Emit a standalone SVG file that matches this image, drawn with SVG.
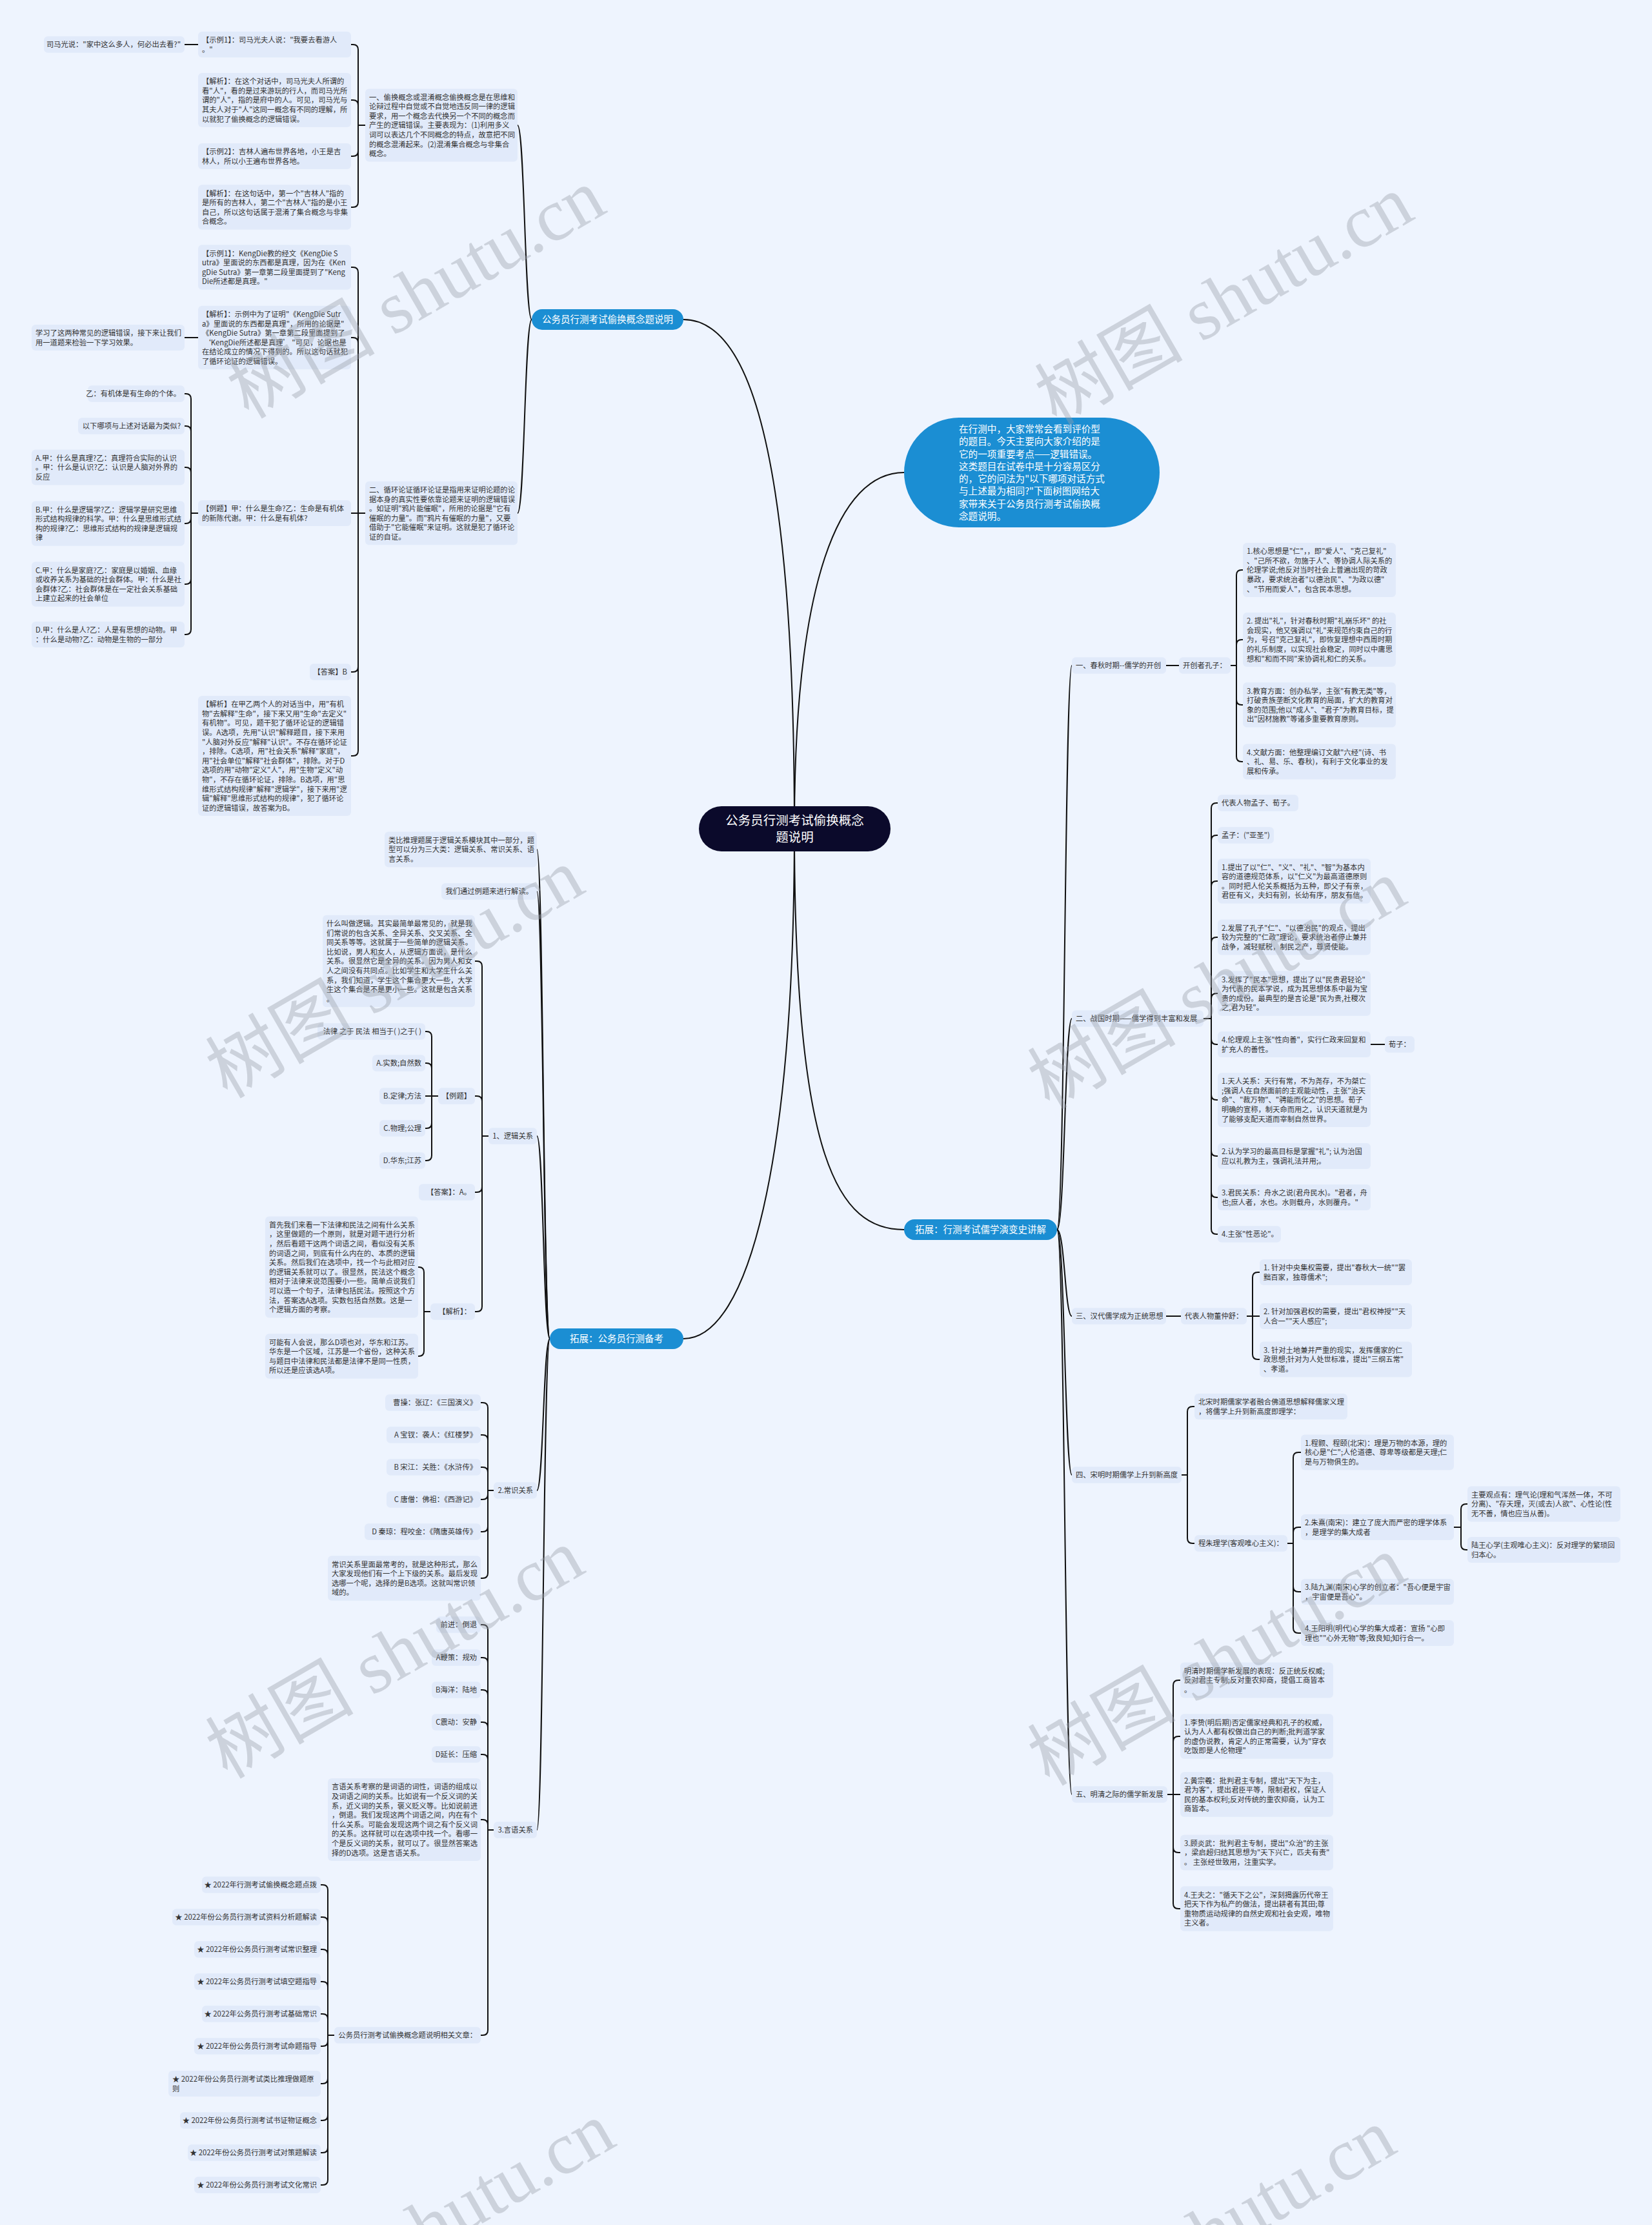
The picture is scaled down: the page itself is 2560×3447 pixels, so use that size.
<svg xmlns="http://www.w3.org/2000/svg" width="2560" height="3447" viewBox="0 0 2560 3447">
<style>
.bg{fill:#eef4fe}
.b{fill:#e1eafa}
.t{font-family:"Noto Sans CJK SC","Noto Sans",sans-serif;font-size:11.3px;fill:#333}
.e{text-anchor:end}
.c{fill:none;stroke:#111;stroke-width:2}
.p{fill:#1b8ed3}
.pt{font-family:"Noto Sans CJK SC",sans-serif;font-size:14.5px;fill:#fff;text-anchor:middle}
.it{font-family:"Noto Sans CJK SC",sans-serif;font-size:14.6px;fill:#fff}
.rt{font-family:"Noto Sans CJK SC",sans-serif;font-size:19.5px;fill:#fff;text-anchor:middle}
.wm{font-family:"Liberation Serif","Noto Sans CJK SC",serif;font-size:115px;fill:#9aa0aa;opacity:.4}
</style>
<rect class="bg" x="0" y="0" width="2560" height="3447"/>

<g id="connectors">
<path class="c" d="M1231 1284C1231 620 1140 495 1059 495"/>
<path class="c" d="M1231 1284C1231 900 1300 732 1401 732"/>
<path class="c" d="M1231 1284C1231 1800 1160 2074 1059 2074"/>
<path class="c" d="M1231 1284C1231 1800 1300 1905 1401 1905"/>
<path class="c" d="M824 495C813 495 813 194 802 194"/>
<path class="c" d="M824 495C813 495 813 795 802 795"/>
<path class="c" d="M566 194H555V77Q555 69 547 69H544"/>
<path class="c" d="M566 194H555V163Q555 155 547 155H544"/>
<path class="c" d="M566 194H555V234Q555 242 547 242H544"/>
<path class="c" d="M566 194H555V313Q555 321 547 321H544"/>
<path class="c" d="M307 69H286"/>
<path class="c" d="M566 795H555V422Q555 414 547 414H544"/>
<path class="c" d="M566 795H555V531Q555 523 547 523H544"/>
<path class="c" d="M566 795H544"/>
<path class="c" d="M566 795H555V1033Q555 1041 547 1041H544"/>
<path class="c" d="M566 795H555V1163Q555 1171 547 1171H544"/>
<path class="c" d="M307 523H286"/>
<path class="c" d="M307 795H296V618Q296 610 288 610H286"/>
<path class="c" d="M307 795H296V668Q296 660 288 660H286"/>
<path class="c" d="M307 795H296V732Q296 724 288 724H286"/>
<path class="c" d="M307 795H296V803Q296 811 288 811H286"/>
<path class="c" d="M307 795H296V897Q296 905 288 905H286"/>
<path class="c" d="M307 795H296V975Q296 983 288 983H286"/>
<path class="c" d="M852 2074C842 2074 842 1316 832 1316"/>
<path class="c" d="M852 2074C842 2074 842 1381 832 1381"/>
<path class="c" d="M852 2074C842 2074 842 1760 832 1760"/>
<path class="c" d="M852 2074C842 2074 842 2309 832 2309"/>
<path class="c" d="M852 2074C842 2074 842 2835 832 2835"/>
<path class="c" d="M757 1760H747V1497Q747 1489 739 1489H736"/>
<path class="c" d="M757 1760H747V1706Q747 1698 739 1698H736"/>
<path class="c" d="M757 1760H747V1839Q747 1847 739 1847H736"/>
<path class="c" d="M757 1760H747V2024Q747 2032 739 2032H736"/>
<path class="c" d="M679 1698H669V1606Q669 1598 661 1598H659"/>
<path class="c" d="M679 1698H669V1655Q669 1647 661 1647H659"/>
<path class="c" d="M679 1698H659"/>
<path class="c" d="M679 1698H669V1740Q669 1748 661 1748H659"/>
<path class="c" d="M679 1698H669V1790Q669 1798 661 1798H659"/>
<path class="c" d="M667 2032H657V1971Q657 1963 649 1963H648"/>
<path class="c" d="M667 2032H657V2093Q657 2101 649 2101H648"/>
<path class="c" d="M765 2309H756V2181Q756 2173 748 2173H745"/>
<path class="c" d="M765 2309H756V2231Q756 2223 748 2223H745"/>
<path class="c" d="M765 2309H756V2281Q756 2273 748 2273H745"/>
<path class="c" d="M765 2309H756V2315Q756 2323 748 2323H745"/>
<path class="c" d="M765 2309H756V2365Q756 2373 748 2373H745"/>
<path class="c" d="M765 2309H756V2437Q756 2445 748 2445H745"/>
<path class="c" d="M765 2835H756V2525Q756 2517 748 2517H745"/>
<path class="c" d="M765 2835H756V2576Q756 2568 748 2568H745"/>
<path class="c" d="M765 2835H756V2626Q756 2618 748 2618H745"/>
<path class="c" d="M765 2835H756V2676Q756 2668 748 2668H745"/>
<path class="c" d="M765 2835H756V2726Q756 2718 748 2718H745"/>
<path class="c" d="M765 2835H756V2827Q756 2819 748 2819H745"/>
<path class="c" d="M765 2835H756V3145Q756 3153 748 3153H745"/>
<path class="c" d="M518 3153H508V2928Q508 2920 500 2920H497"/>
<path class="c" d="M518 3153H508V2978Q508 2970 500 2970H497"/>
<path class="c" d="M518 3153H508V3028Q508 3020 500 3020H497"/>
<path class="c" d="M518 3153H508V3078Q508 3070 500 3070H497"/>
<path class="c" d="M518 3153H508V3128Q508 3120 500 3120H497"/>
<path class="c" d="M518 3153H508V3162Q508 3170 500 3170H497"/>
<path class="c" d="M518 3153H508V3220Q508 3228 500 3228H497"/>
<path class="c" d="M518 3153H508V3277Q508 3285 500 3285H497"/>
<path class="c" d="M518 3153H508V3327Q508 3335 500 3335H497"/>
<path class="c" d="M518 3153H508V3377Q508 3385 500 3385H497"/>
<path class="c" d="M1638 1905C1650 1905 1650 1031 1661 1031"/>
<path class="c" d="M1638 1905C1650 1905 1650 1578 1661 1578"/>
<path class="c" d="M1638 1905C1650 1905 1650 2039 1661 2039"/>
<path class="c" d="M1638 1905C1650 1905 1650 2285 1661 2285"/>
<path class="c" d="M1638 1905C1650 1905 1650 2780 1661 2780"/>
<path class="c" d="M1807 1031H1827"/>
<path class="c" d="M1907 1031H1916V891Q1916 883 1924 883H1926"/>
<path class="c" d="M1907 1031H1916V999Q1916 991 1924 991H1926"/>
<path class="c" d="M1907 1031H1916V1084Q1916 1092 1924 1092H1926"/>
<path class="c" d="M1907 1031H1916V1172Q1916 1180 1924 1180H1926"/>
<path class="c" d="M1865 1578H1877V1252Q1877 1244 1885 1244H1887"/>
<path class="c" d="M1865 1578H1877V1302Q1877 1294 1885 1294H1887"/>
<path class="c" d="M1865 1578H1877V1373Q1877 1365 1885 1365H1887"/>
<path class="c" d="M1865 1578H1877V1460Q1877 1452 1885 1452H1887"/>
<path class="c" d="M1865 1578H1877V1547Q1877 1539 1885 1539H1887"/>
<path class="c" d="M1865 1578H1877V1610Q1877 1618 1885 1618H1887"/>
<path class="c" d="M1865 1578H1877V1696Q1877 1704 1885 1704H1887"/>
<path class="c" d="M1865 1578H1877V1783Q1877 1791 1885 1791H1887"/>
<path class="c" d="M1865 1578H1877V1847Q1877 1855 1885 1855H1887"/>
<path class="c" d="M1865 1578H1877V1904Q1877 1912 1885 1912H1887"/>
<path class="c" d="M2124 1618H2146"/>
<path class="c" d="M1807 2039H1830"/>
<path class="c" d="M1932 2039H1941V1979Q1941 1971 1949 1971H1952"/>
<path class="c" d="M1932 2039H1952"/>
<path class="c" d="M1932 2039H1941V2098Q1941 2106 1949 2106H1952"/>
<path class="c" d="M1831 2285H1840V2187Q1840 2179 1848 2179H1851"/>
<path class="c" d="M1831 2285H1840V2383Q1840 2391 1848 2391H1851"/>
<path class="c" d="M1995 2391H2004V2258Q2004 2250 2012 2250H2016"/>
<path class="c" d="M1995 2391H2004V2374Q2004 2366 2012 2366H2016"/>
<path class="c" d="M1995 2391H2004V2458Q2004 2466 2012 2466H2016"/>
<path class="c" d="M1995 2391H2004V2522Q2004 2530 2012 2530H2016"/>
<path class="c" d="M2253 2366H2264V2338Q2264 2330 2272 2330H2274"/>
<path class="c" d="M2253 2366H2264V2393Q2264 2401 2272 2401H2274"/>
<path class="c" d="M1809 2780H1818V2611Q1818 2603 1826 2603H1829"/>
<path class="c" d="M1809 2780H1818V2698Q1818 2690 1826 2690H1829"/>
<path class="c" d="M1809 2780H1829"/>
<path class="c" d="M1809 2780H1818V2862Q1818 2870 1826 2870H1829"/>
<path class="c" d="M1809 2780H1818V2949Q1818 2957 1826 2957H1829"/>
</g>

<g id="root"><rect x="1083" y="1249" width="297" height="70" rx="35" fill="#0b0a2b"/><text class="rt" x="1231.5" y="1278">公务员行测考试偷换概念<tspan x="1231.5" dy="26">题说明</tspan></text></g>

<g id="intro"><rect class="p" x="1401" y="647" width="396" height="170" rx="85"/><text class="it" x="1486" y="670">在行测中，大家常常会看到评价型<tspan x="1486" dy="19.25">的题目。今天主要向大家介绍的是</tspan><tspan x="1486" dy="19.25">它的一项重要考点——逻辑错误。</tspan><tspan x="1486" dy="19.25">这类题目在试卷中是十分容易区分</tspan><tspan x="1486" dy="19.25">的，它的问法为"以下哪项对话方式</tspan><tspan x="1486" dy="19.25">与上述最为相同?"下面树图网给大</tspan><tspan x="1486" dy="19.25">家带来关于公务员行测考试偷换概</tspan><tspan x="1486" dy="19.25">念题说明。</tspan></text></g>

<g id="branch1"><rect class="p" x="824" y="479" width="235" height="32" rx="16"/><text class="pt" x="941.5" y="500">公务员行测考试偷换概念题说明</text></g>
<g id="branch2"><rect class="p" x="852" y="2058" width="207" height="32" rx="16"/><text class="pt" x="955.5" y="2079">拓展：公务员行测备考</text></g>
<g id="branch3"><rect class="p" x="1401" y="1889" width="237" height="32" rx="16"/><text class="pt" x="1519.5" y="1910">拓展：行测考试儒学演变史讲解</text></g>

<g id="n1"><rect class="b" x="566" y="137.4" width="236" height="113.2" rx="6"/><text class="t" x="572" y="154.6">一、偷换概念或混淆概念偷换概念是在思维和<tspan x="572" dy="14.6">论辩过程中自觉或不自觉地违反同一律的逻辑</tspan><tspan x="572" dy="14.6">要求，用一个概念去代换另一个不同的概念而</tspan><tspan x="572" dy="14.6">产生的逻辑错误。主要表现为：(1)利用多义</tspan><tspan x="572" dy="14.6">词可以表达几个不同概念的特点，故意把不同</tspan><tspan x="572" dy="14.6">的概念混淆起来。(2)混淆集合概念与非集合</tspan><tspan x="572" dy="14.6">概念。</tspan></text></g>
<g id="n1a"><rect class="b" x="68" y="56.2" width="218" height="25.6" rx="6"/><text class="t e" x="280" y="73.4">司马光说："家中这么多人，何必出去看?"</text></g>
<g id="n1b"><rect class="b" x="307" y="48.9" width="237" height="40.2" rx="6"/><text class="t" x="313" y="66.1">【示例1】：司马光夫人说："我要去看游人<tspan x="313" dy="14.6">。"</tspan></text></g>
<g id="n1c"><rect class="b" x="307" y="113" width="237" height="84" rx="6"/><text class="t" x="313" y="130.2">【解析】：在这个对话中，司马光夫人所谓的<tspan x="313" dy="14.6">看"人"，看的是过来游玩的行人，而司马光所</tspan><tspan x="313" dy="14.6">谓的"人"，指的是府中的人。可见，司马光与</tspan><tspan x="313" dy="14.6">其夫人对于"人"这同一概念有不同的理解，所</tspan><tspan x="313" dy="14.6">以就犯了偷换概念的逻辑错误。</tspan></text></g>
<g id="n1d"><rect class="b" x="307" y="221.9" width="237" height="40.2" rx="6"/><text class="t" x="313" y="239.1">【示例2】：吉林人遍布世界各地，小王是吉<tspan x="313" dy="14.6">林人，所以小王遍布世界各地。</tspan></text></g>
<g id="n1e"><rect class="b" x="307" y="286.3" width="237" height="69.4" rx="6"/><text class="t" x="313" y="303.5">【解析】：在这句话中，第一个"吉林人"指的<tspan x="313" dy="14.6">是所有的吉林人，第二个"吉林人"指的是小王</tspan><tspan x="313" dy="14.6">自己，所以这句话属于混淆了集合概念与非集</tspan><tspan x="313" dy="14.6">合概念。</tspan></text></g>

<g id="n2"><rect class="b" x="566" y="745.7" width="236" height="98.6" rx="6"/><text class="t" x="572" y="762.9">二、循环论证循环论证是指用来证明论题的论<tspan x="572" dy="14.6">据本身的真实性要依靠论题来证明的逻辑错误</tspan><tspan x="572" dy="14.6">。如证明"鸦片能催眠"，所用的论据是"它有</tspan><tspan x="572" dy="14.6">催眠的力量"。而"鸦片有催眠的力量"，又要</tspan><tspan x="572" dy="14.6">借助于"它能催眠"来证明。这就是犯了循环论</tspan><tspan x="572" dy="14.6">证的自证。</tspan></text></g>
<g id="n2a"><rect class="b" x="307" y="379.3" width="237" height="69.4" rx="6"/><text class="t" x="313" y="396.5">【示例1】：KengDie教的经文《KengDie S<tspan x="313" dy="14.6">utra》里面说的东西都是真理，因为在《Ken</tspan><tspan x="313" dy="14.6">gDie Sutra》第一章第二段里面提到了"Keng</tspan><tspan x="313" dy="14.6">Die所述都是真理。"</tspan></text></g>
<g id="n2b"><rect class="b" x="307" y="473.7" width="237" height="98.6" rx="6"/><text class="t" x="313" y="490.9">【解析】：示例中为了证明"《KengDie Sutr<tspan x="313" dy="14.6">a》里面说的东西都是真理"，所用的论据是"</tspan><tspan x="313" dy="14.6">《KengDie Sutra》第一章第二段里面提到了</tspan><tspan x="313" dy="14.6"> ‘KengDie所述都是真理’ "可见，论据也是</tspan><tspan x="313" dy="14.6">在结论成立的情况下得到的。所以这句话就犯</tspan><tspan x="313" dy="14.6">了循环论证的逻辑错误。</tspan></text></g>
<g id="n2b1"><rect class="b" x="49" y="502.9" width="237" height="40.2" rx="6"/><text class="t" x="55" y="520.1">学习了这两种常见的逻辑错误，接下来让我们<tspan x="55" dy="14.6">用一道题来检验一下学习效果。</tspan></text></g>
<g id="n2c"><rect class="b" x="307" y="774.9" width="237" height="40.2" rx="6"/><text class="t" x="313" y="792.1">【例题】甲：什么是生命?乙：生命是有机体<tspan x="313" dy="14.6">的新陈代谢。甲：什么是有机体?</tspan></text></g>
<g id="n2c1"><rect class="b" x="136" y="597.2" width="150" height="25.6" rx="6"/><text class="t e" x="280" y="614.4">乙：有机体是有生命的个体。</text></g>
<g id="n2c2"><rect class="b" x="121" y="647.2" width="165" height="25.6" rx="6"/><text class="t e" x="280" y="664.4">以下哪项与上述对话最为类似?</text></g>
<g id="n2c3"><rect class="b" x="49" y="696.6" width="237" height="54.8" rx="6"/><text class="t" x="55" y="713.8">A.甲：什么是真理?乙：真理符合实际的认识<tspan x="55" dy="14.6">。甲：什么是认识?乙：认识是人脑对外界的</tspan><tspan x="55" dy="14.6">反应</tspan></text></g>
<g id="n2c4"><rect class="b" x="49" y="776.3" width="237" height="69.4" rx="6"/><text class="t" x="55" y="793.5">B.甲：什么是逻辑学?乙：逻辑学是研究思维<tspan x="55" dy="14.6">形式结构规律的科学。甲：什么是思维形式结</tspan><tspan x="55" dy="14.6">构的规律?乙：思维形式结构的规律是逻辑规</tspan><tspan x="55" dy="14.6">律</tspan></text></g>
<g id="n2c5"><rect class="b" x="49" y="870.3" width="237" height="69.4" rx="6"/><text class="t" x="55" y="887.5">C.甲：什么是家庭?乙：家庭是以婚姻、血缘<tspan x="55" dy="14.6">或收养关系为基础的社会群体。甲：什么是社</tspan><tspan x="55" dy="14.6">会群体?乙：社会群体是在一定社会关系基础</tspan><tspan x="55" dy="14.6">上建立起来的社会单位</tspan></text></g>
<g id="n2c6"><rect class="b" x="49" y="962.9" width="237" height="40.2" rx="6"/><text class="t" x="55" y="980.1">D.甲：什么是人?乙：人是有思想的动物。甲<tspan x="55" dy="14.6">：什么是动物?乙：动物是生物的一部分</tspan></text></g>
<g id="n2d"><rect class="b" x="480" y="1028.2" width="64" height="25.6" rx="6"/><text class="t e" x="538" y="1045.4">【答案】B</text></g>
<g id="n2e"><rect class="b" x="307" y="1077.9" width="237" height="186.2" rx="6"/><text class="t" x="313" y="1095.1">【解析】在甲乙两个人的对话当中，用"有机<tspan x="313" dy="14.6">物"去解释"生命"，接下来又用"生命"去定义"</tspan><tspan x="313" dy="14.6">有机物"。可见，题干犯了循环论证的逻辑错</tspan><tspan x="313" dy="14.6">误。A选项，先用"认识"解释题目，接下来用</tspan><tspan x="313" dy="14.6">"人脑对外反应"解释"认识"。不存在循环论证</tspan><tspan x="313" dy="14.6">，排除。C选项，用"社会关系"解释"家庭"，</tspan><tspan x="313" dy="14.6">用"社会单位"解释"社会群体"，排除。对于D</tspan><tspan x="313" dy="14.6">选项的用"动物"定义"人"，用"生物"定义"动</tspan><tspan x="313" dy="14.6">物"，不存在循环论证，排除。B选项，用"思</tspan><tspan x="313" dy="14.6">维形式结构规律"解释"逻辑学"，接下来用"逻</tspan><tspan x="313" dy="14.6">辑"解释"思维形式结构的规律"，犯了循环论</tspan><tspan x="313" dy="14.6">证的逻辑错误，故答案为B。</tspan></text></g>

<g id="c1"><rect class="b" x="596" y="1288.6" width="236" height="54.8" rx="6"/><text class="t" x="602" y="1305.8">类比推理题属于逻辑关系模块其中一部分，题<tspan x="602" dy="14.6">型可以分为三大类：逻辑关系、常识关系、语</tspan><tspan x="602" dy="14.6">言关系。</tspan></text></g>
<g id="c2"><rect class="b" x="684" y="1368.2" width="148" height="25.6" rx="6"/><text class="t e" x="826" y="1385.4">我们通过例题来进行解读。</text></g>
<g id="c3"><rect class="b" x="757" y="1747.2" width="75" height="25.6" rx="6"/><text class="t e" x="826" y="1764.4">1、逻辑关系</text></g>
<g id="c3a"><rect class="b" x="500" y="1417.8" width="236" height="142.4" rx="6"/><text class="t" x="506" y="1435">什么叫做逻辑。其实最简单最常见的，就是我<tspan x="506" dy="14.6">们常说的包含关系、全异关系、交叉关系、全</tspan><tspan x="506" dy="14.6">同关系等等。这就属于一些简单的逻辑关系。</tspan><tspan x="506" dy="14.6">比如说，男人和女人，从逻辑方面说，是什么</tspan><tspan x="506" dy="14.6">关系。很显然它是全异的关系。因为男人和女</tspan><tspan x="506" dy="14.6">人之间没有共同点。比如学生和大学生什么关</tspan><tspan x="506" dy="14.6">系，我们知道，学生这个集合更大一些，大学</tspan><tspan x="506" dy="14.6">生这个集合是不是更小一些。这就是包含关系</tspan><tspan x="506" dy="14.6">。</tspan></text></g>
<g id="c3b"><rect class="b" x="679" y="1685.2" width="57" height="25.6" rx="6"/><text class="t e" x="730" y="1702.4">【例题】</text></g>
<g id="c3b1"><rect class="b" x="492" y="1585.2" width="167" height="25.6" rx="6"/><text class="t e" x="653" y="1602.4">法律 之于 民法 相当于( )之于( )</text></g>
<g id="c3b2"><rect class="b" x="577" y="1634.2" width="82" height="25.6" rx="6"/><text class="t e" x="653" y="1651.4">A.实数;自然数</text></g>
<g id="c3b3"><rect class="b" x="588" y="1685.2" width="71" height="25.6" rx="6"/><text class="t e" x="653" y="1702.4">B.定律;方法</text></g>
<g id="c3b4"><rect class="b" x="588" y="1735.2" width="71" height="25.6" rx="6"/><text class="t e" x="653" y="1752.4">C.物理;公理</text></g>
<g id="c3b5"><rect class="b" x="588" y="1785.2" width="71" height="25.6" rx="6"/><text class="t e" x="653" y="1802.4">D.华东;江苏</text></g>
<g id="c3c"><rect class="b" x="649" y="1834.2" width="87" height="25.6" rx="6"/><text class="t e" x="730" y="1851.4">【答案】：A。</text></g>
<g id="c3d"><rect class="b" x="667" y="2019.2" width="69" height="25.6" rx="6"/><text class="t e" x="730" y="2036.4">【解析】：</text></g>
<g id="c3d1"><rect class="b" x="411" y="1884.5" width="237" height="157" rx="6"/><text class="t" x="417" y="1901.7">首先我们来看一下法律和民法之间有什么关系<tspan x="417" dy="14.6">，这里做题的一个原则，就是对题干进行分析</tspan><tspan x="417" dy="14.6">，然后看题干这两个词语之间，看似没有关系</tspan><tspan x="417" dy="14.6">的词语之间，到底有什么内在的、本质的逻辑</tspan><tspan x="417" dy="14.6">关系。然后我们在选项中，找一个与此相对应</tspan><tspan x="417" dy="14.6">的逻辑关系就可以了。很显然，民法这个概念</tspan><tspan x="417" dy="14.6">相对于法律来说范围要小一些。简单点说我们</tspan><tspan x="417" dy="14.6">可以造一个句子，法律包括民法。按照这个方</tspan><tspan x="417" dy="14.6">法，答案选A选项。实数包括自然数。这是一</tspan><tspan x="417" dy="14.6">个逻辑方面的考察。</tspan></text></g>
<g id="c3d2"><rect class="b" x="411" y="2066.3" width="237" height="69.4" rx="6"/><text class="t" x="417" y="2083.5">可能有人会说，那么D项也对，华东和江苏。<tspan x="417" dy="14.6">华东是一个区域，江苏是一个省份，这种关系</tspan><tspan x="417" dy="14.6">与题目中法律和民法都是法律不是同一性质，</tspan><tspan x="417" dy="14.6">所以还是应该选A项。</tspan></text></g>
<g id="c4"><rect class="b" x="765" y="2296.2" width="67" height="25.6" rx="6"/><text class="t e" x="826" y="2313.4">2.常识关系</text></g>
<g id="c4a"><rect class="b" x="597" y="2160.2" width="148" height="25.6" rx="6"/><text class="t e" x="739" y="2177.4">曹操：张辽：《三国演义》</text></g>
<g id="c4b"><rect class="b" x="599" y="2210.2" width="146" height="25.6" rx="6"/><text class="t e" x="739" y="2227.4">A 宝钗：袭人：《红楼梦》</text></g>
<g id="c4c"><rect class="b" x="599" y="2260.2" width="146" height="25.6" rx="6"/><text class="t e" x="739" y="2277.4">B 宋江：关胜：《水浒传》</text></g>
<g id="c4d"><rect class="b" x="599" y="2310.2" width="146" height="25.6" rx="6"/><text class="t e" x="739" y="2327.4">C 唐僧：佛祖：《西游记》</text></g>
<g id="c4e"><rect class="b" x="565" y="2360.2" width="180" height="25.6" rx="6"/><text class="t e" x="739" y="2377.4">D 秦琼：程咬金：《隋唐英雄传》</text></g>
<g id="c4f"><rect class="b" x="508" y="2410.3" width="237" height="69.4" rx="6"/><text class="t" x="514" y="2427.5">常识关系里面最常考的，就是这种形式，那么<tspan x="514" dy="14.6">大家发现他们有一个上下级的关系。最后发现</tspan><tspan x="514" dy="14.6">选哪一个呢，选择的是B选项。这就叫常识领</tspan><tspan x="514" dy="14.6">域的。</tspan></text></g>
<g id="c5"><rect class="b" x="765" y="2822.2" width="67" height="25.6" rx="6"/><text class="t e" x="826" y="2839.4">3.言语关系</text></g>
<g id="c5a"><rect class="b" x="676" y="2504.2" width="69" height="25.6" rx="6"/><text class="t e" x="739" y="2521.4">前进：倒退</text></g>
<g id="c5b"><rect class="b" x="669" y="2555.2" width="76" height="25.6" rx="6"/><text class="t e" x="739" y="2572.4">A鞭策：规劝</text></g>
<g id="c5c"><rect class="b" x="669" y="2605.2" width="76" height="25.6" rx="6"/><text class="t e" x="739" y="2622.4">B海洋：陆地</text></g>
<g id="c5d"><rect class="b" x="669" y="2655.2" width="76" height="25.6" rx="6"/><text class="t e" x="739" y="2672.4">C震动：安静</text></g>
<g id="c5e"><rect class="b" x="669" y="2705.2" width="76" height="25.6" rx="6"/><text class="t e" x="739" y="2722.4">D延长：压缩</text></g>
<g id="c5f"><rect class="b" x="508" y="2755.1" width="237" height="127.8" rx="6"/><text class="t" x="514" y="2772.3">言语关系考察的是词语的词性，词语的组成以<tspan x="514" dy="14.6">及词语之间的关系。比如说有一个反义词的关</tspan><tspan x="514" dy="14.6">系，近义词的关系，褒义贬义等。比如说前进</tspan><tspan x="514" dy="14.6">，倒退。我们发现这两个词语之间，内在有个</tspan><tspan x="514" dy="14.6">什么关系。可能会发现这两个词之有个反义词</tspan><tspan x="514" dy="14.6">的关系。这样就可以在选项中找一个。看哪一</tspan><tspan x="514" dy="14.6">个是反义词的关系，就可以了。很显然答案选</tspan><tspan x="514" dy="14.6">择的D选项。这是言语关系。</tspan></text></g>
<g id="c5g"><rect class="b" x="518" y="3140.2" width="227" height="25.6" rx="6"/><text class="t e" x="739" y="3157.4">公务员行测考试偷换概念题说明相关文章：</text></g>
<g id="s1"><rect class="b" x="313" y="2907.2" width="184" height="25.6" rx="6"/><text class="t e" x="491" y="2924.4">★ 2022年行测考试偷换概念题点拨</text></g>
<g id="s2"><rect class="b" x="267" y="2957.2" width="230" height="25.6" rx="6"/><text class="t e" x="491" y="2974.4">★ 2022年份公务员行测考试资料分析题解读</text></g>
<g id="s3"><rect class="b" x="301" y="3007.2" width="196" height="25.6" rx="6"/><text class="t e" x="491" y="3024.4">★ 2022年份公务员行测考试常识整理</text></g>
<g id="s4"><rect class="b" x="301" y="3057.2" width="196" height="25.6" rx="6"/><text class="t e" x="491" y="3074.4">★ 2022年公务员行测考试填空题指导</text></g>
<g id="s5"><rect class="b" x="313" y="3107.2" width="184" height="25.6" rx="6"/><text class="t e" x="491" y="3124.4">★ 2022年公务员行测考试基础常识</text></g>
<g id="s6"><rect class="b" x="301" y="3157.2" width="196" height="25.6" rx="6"/><text class="t e" x="491" y="3174.4">★ 2022年份公务员行测考试命题指导</text></g>
<g id="s7"><rect class="b" x="261" y="3207.9" width="236" height="40.2" rx="6"/><text class="t" x="267" y="3225.1">★ 2022年份公务员行测考试类比推理做题原<tspan x="267" dy="14.6">则</tspan></text></g>
<g id="s8"><rect class="b" x="279" y="3272.2" width="218" height="25.6" rx="6"/><text class="t e" x="491" y="3289.4">★ 2022年份公务员行测考试书证物证概念</text></g>
<g id="s9"><rect class="b" x="291" y="3322.2" width="206" height="25.6" rx="6"/><text class="t e" x="491" y="3339.4">★ 2022年份公务员行测考试对策题解读</text></g>
<g id="s10"><rect class="b" x="301" y="3372.2" width="196" height="25.6" rx="6"/><text class="t e" x="491" y="3389.4">★ 2022年份公务员行测考试文化常识</text></g>

<g id="r1"><rect class="b" x="1661" y="1018.2" width="146" height="25.6" rx="6"/><text class="t" x="1667" y="1035.4">一、春秋时期--儒学的开创</text></g>
<g id="r1a"><rect class="b" x="1827" y="1018.2" width="80" height="25.6" rx="6"/><text class="t" x="1833" y="1035.4">开创者孔子：</text></g>
<g id="r1a1"><rect class="b" x="1926" y="841" width="237" height="84" rx="6"/><text class="t" x="1932" y="858.2">1.核心思想是"仁"，，即"爱人"、"克己复礼"<tspan x="1932" dy="14.6">、"己所不欲，勿施于人"、等协调人际关系的</tspan><tspan x="1932" dy="14.6">伦理学说;他反对当时社会上普遍出现的苛政</tspan><tspan x="1932" dy="14.6">暴政，要求统治者"以德治民"、"为政以德"</tspan><tspan x="1932" dy="14.6">、"节用而爱人"，包含民本思想。</tspan></text></g>
<g id="r1a2"><rect class="b" x="1926" y="949" width="237" height="84" rx="6"/><text class="t" x="1932" y="966.2">2. 提出"礼"，针对春秋时期"礼崩乐坏" 的社<tspan x="1932" dy="14.6">会现实，他又强调以"礼"来规范约束自己的行</tspan><tspan x="1932" dy="14.6">为，号召"克己复礼"，即恢复理想中西周时期</tspan><tspan x="1932" dy="14.6">的礼乐制度，以实现社会稳定，同时以中庸思</tspan><tspan x="1932" dy="14.6">想和"和而不同"来协调礼和仁的关系。</tspan></text></g>
<g id="r1a3"><rect class="b" x="1926" y="1057.3" width="237" height="69.4" rx="6"/><text class="t" x="1932" y="1074.5">3.教育方面：创办私学，主张"有教无类"等，<tspan x="1932" dy="14.6">打破贵族垄断文化教育的局面，扩大的教育对</tspan><tspan x="1932" dy="14.6">象的范围;他以"成人"、"君子"为教育目标，提</tspan><tspan x="1932" dy="14.6">出"因材施教"等诸多重要教育原则。</tspan></text></g>
<g id="r1a4"><rect class="b" x="1926" y="1152.6" width="237" height="54.8" rx="6"/><text class="t" x="1932" y="1169.8">4.文献方面：他整理编订文献"六经"(诗、书<tspan x="1932" dy="14.6">、礼、易、乐、春秋)，有利于文化事业的发</tspan><tspan x="1932" dy="14.6">展和传承。</tspan></text></g>

<g id="r2"><rect class="b" x="1661" y="1565.2" width="204" height="25.6" rx="6"/><text class="t" x="1667" y="1582.4">二、战国时期——儒学得到丰富和发展</text></g>
<g id="r2a"><rect class="b" x="1887" y="1231.2" width="125" height="25.6" rx="6"/><text class="t" x="1893" y="1248.4">代表人物孟子、荀子。</text></g>
<g id="r2b"><rect class="b" x="1887" y="1281.2" width="87" height="25.6" rx="6"/><text class="t" x="1893" y="1298.4">孟子：("亚圣")</text></g>
<g id="r2c"><rect class="b" x="1887" y="1330.3" width="237" height="69.4" rx="6"/><text class="t" x="1893" y="1347.5">1.提出了以"仁"、"义"、"礼"、"智"为基本内<tspan x="1893" dy="14.6">容的道德规范体系，以"仁义"为最高道德原则</tspan><tspan x="1893" dy="14.6">。同时把人伦关系概括为五种，即父子有亲，</tspan><tspan x="1893" dy="14.6">君臣有义，夫妇有别，长幼有序，朋友有信。</tspan></text></g>
<g id="r2d"><rect class="b" x="1887" y="1424.6" width="237" height="54.8" rx="6"/><text class="t" x="1893" y="1441.8">2.发展了孔子"仁"、"以德治民"的观点，提出<tspan x="1893" dy="14.6">较为完整的"仁政"理论，要求统治者停止兼并</tspan><tspan x="1893" dy="14.6">战争，减轻赋税，制民之产，尊贤使能。</tspan></text></g>
<g id="r2e"><rect class="b" x="1887" y="1504.3" width="237" height="69.4" rx="6"/><text class="t" x="1893" y="1521.5">3.发挥了"民本"思想，提出了以"民贵君轻论"<tspan x="1893" dy="14.6">为代表的民本学说，成为其思想体系中最为宝</tspan><tspan x="1893" dy="14.6">贵的成份。最典型的是言论是"民为贵,社稷次</tspan><tspan x="1893" dy="14.6">之,君为轻"。</tspan></text></g>
<g id="r2f"><rect class="b" x="1887" y="1597.9" width="237" height="40.2" rx="6"/><text class="t" x="1893" y="1615.1">4.伦理观上主张"性向善"，实行仁政来回复和<tspan x="1893" dy="14.6">扩充人的善性。</tspan></text></g>
<g id="r2f1"><rect class="b" x="2146" y="1605.2" width="46" height="25.6" rx="6"/><text class="t" x="2152" y="1622.4">荀子：</text></g>
<g id="r2g"><rect class="b" x="1887" y="1662" width="237" height="84" rx="6"/><text class="t" x="1893" y="1679.2">1.天人关系：天行有常，不为尧存，不为桀亡<tspan x="1893" dy="14.6">;强调人在自然面前的主观能动性，主张"治天</tspan><tspan x="1893" dy="14.6">命"、"裁万物"、"骋能而化之"的思想。荀子</tspan><tspan x="1893" dy="14.6">明确的宣称，制天命而用之，认识天道就是为</tspan><tspan x="1893" dy="14.6">了能够支配天道而宰制自然世界。</tspan></text></g>
<g id="r2h"><rect class="b" x="1887" y="1770.9" width="237" height="40.2" rx="6"/><text class="t" x="1893" y="1788.1">2.认为学习的最高目标是掌握"礼"; 认为治国<tspan x="1893" dy="14.6">应以礼教为主，强调礼法并用;。</tspan></text></g>
<g id="r2i"><rect class="b" x="1887" y="1834.9" width="237" height="40.2" rx="6"/><text class="t" x="1893" y="1852.1">3.君民关系：舟水之说(君舟民水)。"君者，舟<tspan x="1893" dy="14.6">也;庶人者，水也。水则载舟，水则覆舟。"</tspan></text></g>
<g id="r2j"><rect class="b" x="1887" y="1899.2" width="98" height="25.6" rx="6"/><text class="t" x="1893" y="1916.4">4.主张"性恶论"。</text></g>

<g id="r3"><rect class="b" x="1661" y="2026.2" width="146" height="25.6" rx="6"/><text class="t" x="1667" y="2043.4">三、汉代儒学成为正统思想</text></g>
<g id="r3a"><rect class="b" x="1830" y="2026.2" width="102" height="25.6" rx="6"/><text class="t" x="1836" y="2043.4">代表人物董仲舒：</text></g>
<g id="r3a1"><rect class="b" x="1952" y="1950.9" width="236" height="40.2" rx="6"/><text class="t" x="1958" y="1968.1">1. 针对中央集权需要，提出"春秋大一统""罢<tspan x="1958" dy="14.6">黜百家，独尊儒术";</tspan></text></g>
<g id="r3a2"><rect class="b" x="1952" y="2018.9" width="236" height="40.2" rx="6"/><text class="t" x="1958" y="2036.1">2. 针对加强君权的需要，提出"君权神授""天<tspan x="1958" dy="14.6">人合一""天人感应";</tspan></text></g>
<g id="r3a3"><rect class="b" x="1952" y="2078.6" width="236" height="54.8" rx="6"/><text class="t" x="1958" y="2095.8">3. 针对土地兼并严重的现实，发挥儒家的仁<tspan x="1958" dy="14.6">政思想;针对为人处世标准，提出"三纲五常"</tspan><tspan x="1958" dy="14.6">、孝道。</tspan></text></g>

<g id="r4"><rect class="b" x="1661" y="2272.2" width="170" height="25.6" rx="6"/><text class="t" x="1667" y="2289.4">四、宋明时期儒学上升到新高度</text></g>
<g id="r4a"><rect class="b" x="1851" y="2158.9" width="237" height="40.2" rx="6"/><text class="t" x="1857" y="2176.1">北宋时期儒家学者融合佛道思想解释儒家义理<tspan x="1857" dy="14.6">，将儒学上升到新高度即理学：</tspan></text></g>
<g id="r4b"><rect class="b" x="1851" y="2378.2" width="144" height="25.6" rx="6"/><text class="t" x="1857" y="2395.4">程朱理学(客观唯心主义)：</text></g>
<g id="r4b1"><rect class="b" x="2016" y="2222.6" width="237" height="54.8" rx="6"/><text class="t" x="2022" y="2239.8">1.程颢、程颐(北宋)：理是万物的本源，理的<tspan x="2022" dy="14.6">核心是"仁";人伦道德、尊卑等级都是天理;仁</tspan><tspan x="2022" dy="14.6">是与万物俱生的。</tspan></text></g>
<g id="r4b2"><rect class="b" x="2016" y="2345.9" width="237" height="40.2" rx="6"/><text class="t" x="2022" y="2363.1">2.朱熹(南宋)：建立了庞大而严密的理学体系<tspan x="2022" dy="14.6">，是理学的集大成者</tspan></text></g>
<g id="r4b2a"><rect class="b" x="2274" y="2302.6" width="237" height="54.8" rx="6"/><text class="t" x="2280" y="2319.8">主要观点有：理气论(理和气浑然一体，不可<tspan x="2280" dy="14.6">分离)、"存天理，灭(或去)人欲"、心性论(性</tspan><tspan x="2280" dy="14.6">无不善，情也应当从善)。</tspan></text></g>
<g id="r4b2b"><rect class="b" x="2274" y="2380.9" width="237" height="40.2" rx="6"/><text class="t" x="2280" y="2398.1">陆王心学(主观唯心主义)：反对理学的繁琐回<tspan x="2280" dy="14.6">归本心。</tspan></text></g>
<g id="r4b3"><rect class="b" x="2016" y="2445.9" width="237" height="40.2" rx="6"/><text class="t" x="2022" y="2463.1">3.陆九渊(南宋)心学的创立者："吾心便是宇宙<tspan x="2022" dy="14.6">，宇宙便是吾心"。</tspan></text></g>
<g id="r4b4"><rect class="b" x="2016" y="2509.9" width="237" height="40.2" rx="6"/><text class="t" x="2022" y="2527.1">4.王阳明(明代)心学的集大成者：宣扬 "心即<tspan x="2022" dy="14.6">理也""心外无物"等;致良知;知行合一。</tspan></text></g>

<g id="r5"><rect class="b" x="1661" y="2767.2" width="148" height="25.6" rx="6"/><text class="t" x="1667" y="2784.4">五、明清之际的儒学新发展</text></g>
<g id="r5a"><rect class="b" x="1829" y="2575.6" width="237" height="54.8" rx="6"/><text class="t" x="1835" y="2592.8">明清时期儒学新发展的表现：反正统反权威;<tspan x="1835" dy="14.6">反对君主专制;反对重农抑商，提倡工商皆本</tspan><tspan x="1835" dy="14.6">。</tspan></text></g>
<g id="r5b"><rect class="b" x="1829" y="2655.3" width="237" height="69.4" rx="6"/><text class="t" x="1835" y="2672.5">1.李贽(明后期)否定儒家经典和孔子的权威，<tspan x="1835" dy="14.6">认为人人都有权做出自己的判断;批判道学家</tspan><tspan x="1835" dy="14.6">的虚伪说教，肯定人的正常需要，认为"穿衣</tspan><tspan x="1835" dy="14.6">吃饭即是人伦物理"</tspan></text></g>
<g id="r5c"><rect class="b" x="1829" y="2745.3" width="237" height="69.4" rx="6"/><text class="t" x="1835" y="2762.5">2.黄宗羲：批判君主专制，提出"天下为主，<tspan x="1835" dy="14.6">君为客"，提出君臣平等，限制君权，保证人</tspan><tspan x="1835" dy="14.6">民的基本权利;反对传统的重农抑商，认为工</tspan><tspan x="1835" dy="14.6">商皆本。</tspan></text></g>
<g id="r5d"><rect class="b" x="1829" y="2842.6" width="237" height="54.8" rx="6"/><text class="t" x="1835" y="2859.8">3.顾炎武：批判君主专制，提出"众治"的主张<tspan x="1835" dy="14.6">，梁启超归结其思想为"天下兴亡，匹夫有责"</tspan><tspan x="1835" dy="14.6">。 主张经世致用，注重实学。</tspan></text></g>
<g id="r5e"><rect class="b" x="1829" y="2922.3" width="237" height="69.4" rx="6"/><text class="t" x="1835" y="2939.5">4.王夫之："循天下之公"，深刻揭露历代帝王<tspan x="1835" dy="14.6">把天下作为私产的做法，提出耕者有其田;尊</tspan><tspan x="1835" dy="14.6">重物质运动规律的自然史观和社会史观，唯物</tspan><tspan x="1835" dy="14.6">主义者。</tspan></text></g>

<g id="watermark">
<text class="wm" x="385" y="650" transform="rotate(-30 385 650)">树图 shutu.cn</text>
<text class="wm" x="1637" y="660" transform="rotate(-30 1637 660)">树图 shutu.cn</text>
<text class="wm" x="352" y="1703" transform="rotate(-30 352 1703)">树图 shutu.cn</text>
<text class="wm" x="1626" y="1720" transform="rotate(-30 1626 1720)">树图 shutu.cn</text>
<text class="wm" x="352" y="2757" transform="rotate(-30 352 2757)">树图 shutu.cn</text>
<text class="wm" x="1626" y="2768" transform="rotate(-30 1626 2768)">树图 shutu.cn</text>
<text class="wm" x="400" y="3645" transform="rotate(-30 400 3645)">树图 shutu.cn</text>
<text class="wm" x="1610" y="3655" transform="rotate(-30 1610 3655)">树图 shutu.cn</text>
</g>
</svg>
